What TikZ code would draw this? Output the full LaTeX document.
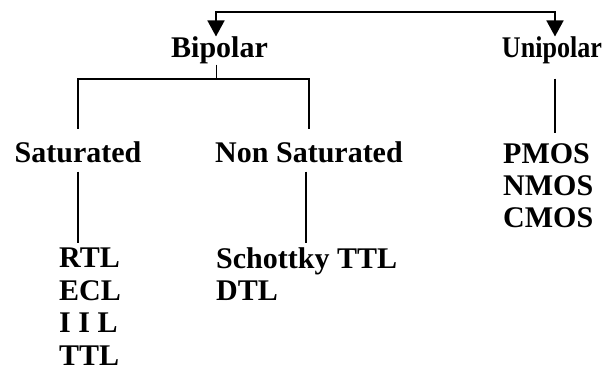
\documentclass[tikz,border=0pt]{standalone}
\usepackage{fontspec}
\setmainfont{Liberation Serif}
\usepackage{graphicx}
\usetikzlibrary{arrows.meta}
\begin{document}
\begin{tikzpicture}[
    x=1pt, y=-1pt,
    lbl/.style = {inner sep=0pt, font=\bfseries\fontsize{30}{32.4}\selectfont},
    lst/.style = {lbl, align=left, anchor=north west},
    link/.style = {line width=2.4pt},
    stub/.style = {line width=0.8pt},
    arrow/.style = {line width=1.6pt, -{Triangle[width=17pt,length=16pt]}, shorten >=0.5pt}
]
    \useasboundingbox (0,0) rectangle (603,371);
    \node[lbl, anchor=base] (bip) at (219.5,58) {Bipolar};
    \node[lbl, anchor=base] (uni) at (552,58) {\scalebox{0.87}[1]{Unipolar}};
    \node[lbl, anchor=base] (sat) at (78,163) {Saturated};
    \node[lbl, anchor=base] (nonsat) at (309,163) {Non Saturated};
    \node[lst] (satlist) at (59,248) {RTL\\ECL\\I I L\\TTL};
    \node[lst] (nonsatlist) at (216,247.5) {Schottky TTL\\DTL};
    \node[lst] (unilist) at (503,143) {PMOS\\NMOS\\CMOS};
    \coordinate (top) at (385,12);
    \coordinate (fork) at (216,79);
    \draw[arrow] (top) -| ([xshift=-3.5pt]bip.north);
    \draw[arrow] (top) -| ([xshift=3pt]uni.north);
    \draw[stub] ([xshift=-3.5pt]bip.south) -- (fork);
    \draw[
        link,
        shorten <=13pt,
        shorten >=13pt
    ]
    (sat.north) |- (fork) -| (nonsat.north);
    \draw[link, shorten <=8pt, shorten >=5pt] (sat.south) -- (sat.south |- satlist.north);
    \draw[link, shorten <=8pt, shorten >=4pt] ([xshift=-3pt]nonsat.south) -- ([xshift=-3pt]nonsat.south |- nonsatlist.north);
    \draw[link, shorten <=14pt, shorten >=10pt] ([xshift=3pt]uni.south) -- ([xshift=3pt]uni.south |- unilist.north);
\end{tikzpicture}
\end{document}
